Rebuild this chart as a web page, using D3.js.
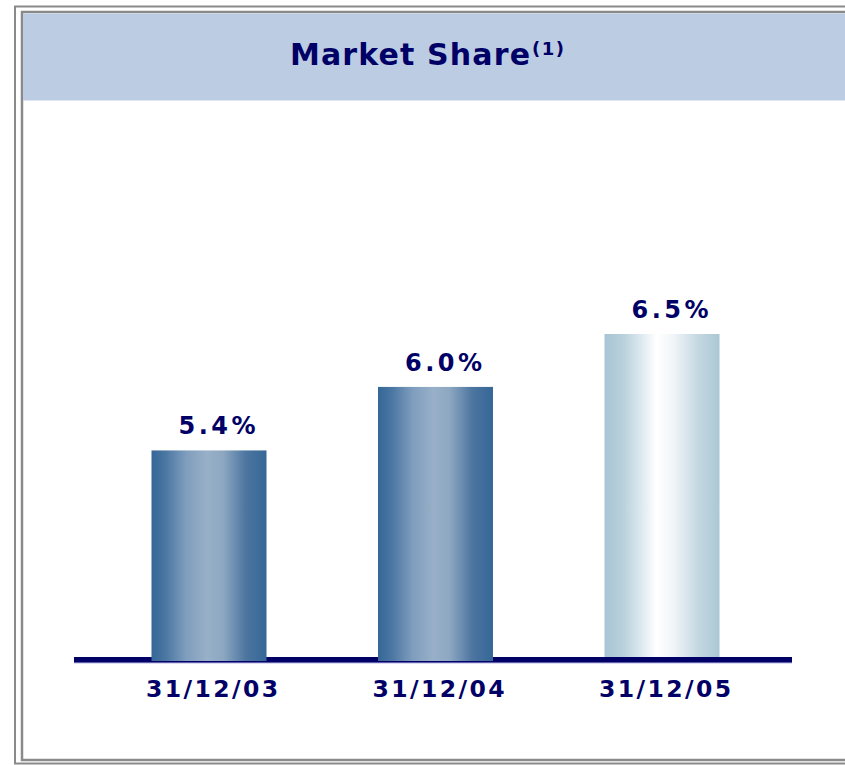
<!DOCTYPE html>
<html>
<head>
<meta charset="utf-8">
<script src="https://cdn.jsdelivr.net/npm/d3@7"></script>
<style>
  html, body { margin: 0; padding: 0; background: #ffffff; }
  svg { display: block; }
</style>
</head>
<body>
<svg id="chart" width="845" height="765"></svg>
<script>
// ---- data ----
const categories = ["31/12/03", "31/12/04", "31/12/05"];
const values = [5.4, 6.0, 6.5];
const valueLabels = ["5.4%", "6.0%", "6.5%"];
const titleText = "Market Share";
const titleNote = "(1)";

const W = 845, H = 765;
const svg = d3.select("#chart");
const navy = "#000066";
const font = "'DejaVu Sans', Verdana, sans-serif";

// ---- frame ----
svg.append("rect").attr("x", 15).attr("y", 6.5).attr("width", 900).attr("height", 757)
  .attr("fill", "none").attr("stroke", "#8a8a8a").attr("stroke-width", 2);
svg.append("rect").attr("x", 22).attr("y", 12).attr("width", 900).attr("height", 748)
  .attr("fill", "#ffffff").attr("stroke", "#8a8a8a").attr("stroke-width", 2.5);
// header band
svg.append("rect").attr("x", 23).attr("y", 13.5).attr("width", 900).attr("height", 87)
  .attr("fill", "#bccde3");

// title
const title = svg.append("text").attr("x", 290).attr("y", 65)
  .attr("font-family", font).attr("font-weight", "bold").attr("font-size", 30)
  .attr("fill", navy);
title.append("tspan").text(titleText).attr("textLength", 240).attr("lengthAdjust", "spacing");
title.append("tspan").text(titleNote).attr("x", 532).attr("dy", -10).attr("font-size", 18)
  .attr("textLength", 32).attr("lengthAdjust", "spacing");

// ---- gradients ----
const defs = svg.append("defs");
const g1 = defs.append("linearGradient").attr("id", "gDark").attr("x1", "0%").attr("x2", "100%").attr("y1", "0%").attr("y2", "0%");
[[0, "#356797"], [0.12, "#4a76a2"], [0.3, "#7f9dbd"], [0.48, "#98b0c8"], [0.62, "#8ea8c2"], [0.82, "#4d75a0"], [1, "#356797"]]
  .forEach(([o, c]) => g1.append("stop").attr("offset", o).attr("stop-color", c));
const g2 = defs.append("linearGradient").attr("id", "gLight").attr("x1", "0%").attr("x2", "100%").attr("y1", "0%").attr("y2", "0%");
[[0, "#a9c5d3"], [0.15, "#b6cfdb"], [0.32, "#dde9ef"], [0.45, "#ffffff"], [0.6, "#f1f5f8"], [0.82, "#c3d7e1"], [1, "#abc7d4"]]
  .forEach(([o, c]) => g2.append("stop").attr("offset", o).attr("stop-color", c));
const fills = ["url(#gDark)", "url(#gDark)", "url(#gLight)"];
const bottoms = [661, 661, 657];

// ---- scales ----
const x = d3.scaleBand().domain(categories).range([151.5, 719.5]).paddingInner(0.4923).paddingOuter(0);
const y = d3.scaleLinear().domain([3.42, 6.5]).range([660, 334]);

// axis line
svg.append("rect").attr("x", 74).attr("y", 662).attr("width", 718).attr("height", 1.5).attr("fill", "#b8b8e8");
svg.append("rect").attr("x", 74).attr("y", 657).attr("width", 718).attr("height", 5.5).attr("fill", navy);

// bars
svg.selectAll("rect.bar").data(values).join("rect")
  .attr("class", "bar")
  .attr("x", (d, i) => x(categories[i]))
  .attr("width", x.bandwidth())
  .attr("y", d => y(d))
  .attr("height", (d, i) => bottoms[i] - y(d))
  .attr("fill", (d, i) => fills[i]);

// value labels
svg.selectAll("text.val").data(values).join("text")
  .attr("class", "val")
  .attr("x", (d, i) => x(categories[i]) + x.bandwidth() / 2 + 8)
  .attr("y", d => y(d) - 16)
  .attr("text-anchor", "middle")
  .attr("font-family", font).attr("font-weight", "bold").attr("font-size", 24)
  .attr("fill", navy)
  .attr("textLength", 77).attr("lengthAdjust", "spacing")
  .text((d, i) => valueLabels[i]);

// category labels
svg.selectAll("text.cat").data(categories).join("text")
  .attr("class", "cat")
  .attr("x", d => x(d) + x.bandwidth() / 2 + 3)
  .attr("y", 697)
  .attr("text-anchor", "middle")
  .attr("font-family", font).attr("font-weight", "bold").attr("font-size", 23.5)
  .attr("fill", navy)
  .attr("textLength", 132).attr("lengthAdjust", "spacing")
  .text(d => d);
</script>
</body>
</html>
